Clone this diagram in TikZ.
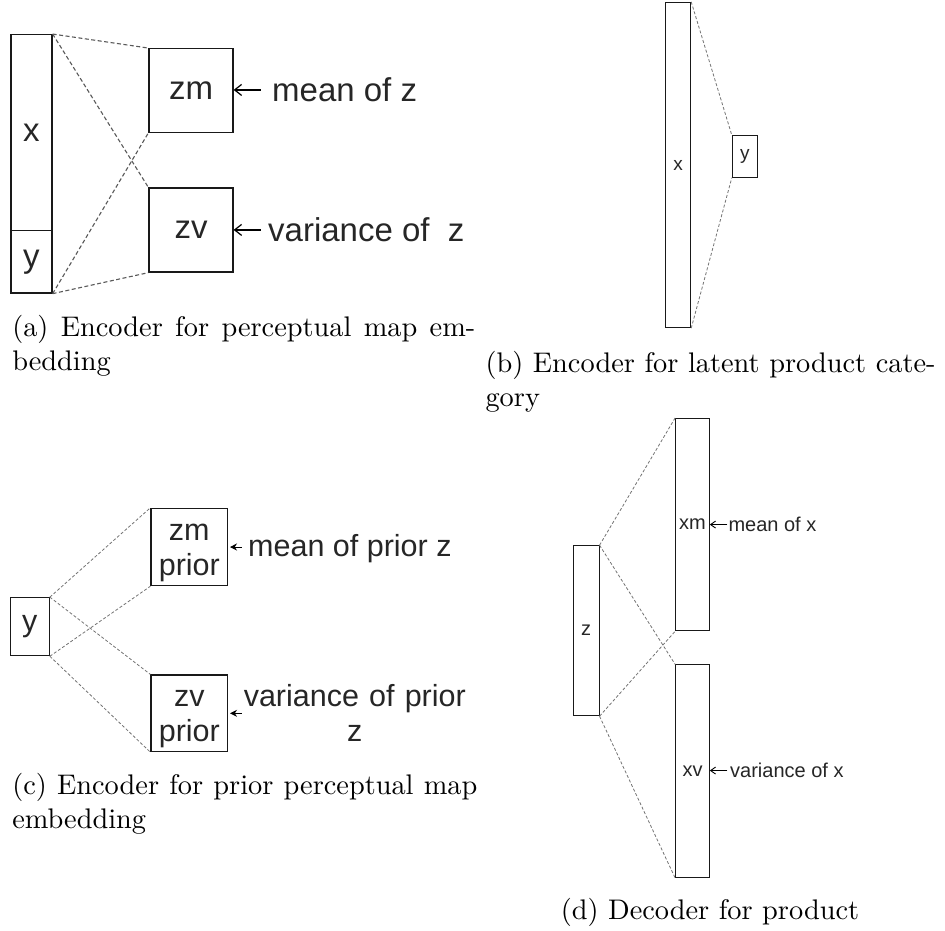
\documentclass[tikz,border=0pt]{standalone}
\usepackage{fontspec}
\newfontfamily\arialf{Liberation Sans}
\usetikzlibrary{arrows.meta,calc}
\begin{document}
\begin{tikzpicture}[x=1pt,y=-1pt]
\tikzset{
 bx/.style={draw=black!90,line width=1.3pt,inner sep=0pt,text=black!85},
 lnk/.style={draw=black!65,line width=1.1pt,dash pattern=on 4pt off 2.5pt},
 lnkthin/.style={draw=black!55,line width=0.8pt,dash pattern=on 3pt off 2pt},
 fa/.style={font=\arialf\fontsize{33}{36}\selectfont,text=black!85},
 fb/.style={font=\arialf\fontsize{19}{22}\selectfont,text=black!85},
 fc/.style={font=\arialf\fontsize{30.5}{35}\selectfont,text=black!85},
 fd/.style={font=\arialf\fontsize{20}{23}\selectfont,text=black!85},
 lbl/.style={inner sep=0pt,anchor=base west},
 twoline/.style={text width=#1,align=center,text height=22pt,text depth=35.2pt},
 captxt/.style={scale=2.834,transform shape,inner sep=0pt,anchor=base west,align=justify,font=\fontsize{10}{12}\selectfont},
 arrA/.style={draw=black,line width=1.2pt,-{Straight Barb[length=7pt,width=11pt]}},
 arrC/.style={draw=black,line width=1pt,-{Stealth[length=7pt,width=7pt]}},
 arrD/.style={draw=black,line width=0.9pt,-{Straight Barb[length=5pt,width=7pt]}},
}
\useasboundingbox (0,0) rectangle (945,930);

% ---------- (a)
\node[bx,fa,minimum width=41pt,minimum height=196pt] (ax) at (31.5,132.7) {x};
\node[bx,fa,minimum width=41pt,minimum height=62.3pt] (ay) at (31.5,261.85) {y};
\node[bx,fa,minimum width=84pt,minimum height=83.6pt] (zm) at (191,90.5) {zm};
\node[bx,fa,minimum width=84pt,minimum height=84pt] (zv) at (191,230) {zv};
\draw[lnk] (ax.north east) -- (zm.north west);
\draw[lnk] (ax.north east) -- (zv.north west);
\draw[lnk] (ay.south east) -- (zm.south west);
\draw[lnk] (ay.south east) -- (zv.south west);
\node[lbl,fa] (mz) at (272,101.7) {mean of z};
\node[lbl,fa] (vz) at (268,241.7) {variance of\ \ z};
\draw[arrA] (mz.west -| zm.east) ++(27,0) -- (mz.west -| zm.east);
\draw[arrA] (vz.west -| zv.east) ++(27,0) -- (vz.west -| zv.east);
\node[captxt,text width=163.4pt] (capa) at (11.7,336.7) {(a) Encoder for perceptual map em-\linebreak bedding};

% ---------- (b)
\node[bx,fb,line width=1pt,minimum width=25.4pt,minimum height=325.4pt] (bx) at (678,165) {x};
\node[bx,fb,line width=1pt,minimum width=25pt,minimum height=41.6pt] (by) at (744.8,156.5) {y};
\draw[lnkthin] (bx.north east) -- (by.north west);
\draw[lnkthin] (bx.south east) -- (by.south west);
\node[captxt,text width=158.8pt] (capb) at (485,372) {(b) Encoder for latent product cate-\linebreak gory};

% ---------- (c)
\node[bx,fc,line width=1.1pt,minimum width=39pt,minimum height=58pt] (cy) at (29.8,626.7) {y};
\node[bx,fc,line width=1.1pt,twoline=76pt,minimum width=76.7pt,minimum height=77.4pt] (czm) at (189.3,547) {zm\\prior};
\node[bx,fc,line width=1.1pt,twoline=76pt,minimum width=76.7pt,minimum height=76.7pt] (czv) at (189.3,713.3) {zv\\prior};
\draw[lnkthin] (cy.north east) -- (czm.north west);
\draw[lnkthin] (cy.north east) -- (czv.north west);
\draw[lnkthin] (cy.south east) -- (czm.south west);
\draw[lnkthin] (cy.south east) -- (czv.south west);
\node[lbl,fc] (mpz) at (248,556.7) {mean of prior z};
\node[fc,inner sep=0pt,text width=240pt,align=center,anchor=base] (vpz) at (354.8,706.7) {variance of prior\\z};
\draw[arrC] (czm.east) ++(13.3,0) -- ($(czm.east)+(1.8,0)$);
\draw[arrC] (czv.east) ++(13.3,0) -- ($(czv.east)+(1.8,0)$);
\node[captxt,text width=164.1pt] (capc) at (11.7,794) {(c) Encoder for prior perceptual map\linebreak embedding};

% ---------- (d)
\node[bx,fd,line width=1pt,minimum width=25.7pt,minimum height=170pt] (dz) at (586.2,630.7) {z};
\node[bx,fd,line width=1pt,minimum width=33.6pt,minimum height=212.4pt] (dxm) at (692.5,524.5) {xm};
\node[bx,fd,line width=1pt,minimum width=33.6pt,minimum height=212.7pt] (dxv) at (692.5,771.3) {xv};
\draw[lnkthin] (dz.north east) -- (dxm.north west);
\draw[lnkthin] (dz.north east) -- (dxv.north west);
\draw[lnkthin] (dz.south east) -- (dxm.south west);
\draw[lnkthin] (dz.south east) -- (dxv.south west);
\node[lbl,fd] (mx) at (728.3,531.7) {mean of x};
\node[lbl,fd] (vx) at (730,777.7) {variance of x};
\draw[arrD] (mx.west -| dxm.east) ++(17.5,0) -- (mx.west -| dxm.east);
\draw[arrD] (vx.west -| dxv.east) ++(17.5,0) -- (vx.west -| dxv.east);
\node[captxt,anchor=base] (capd) at (710,919.5) {(d) Decoder for product};
\end{tikzpicture}
\end{document}
